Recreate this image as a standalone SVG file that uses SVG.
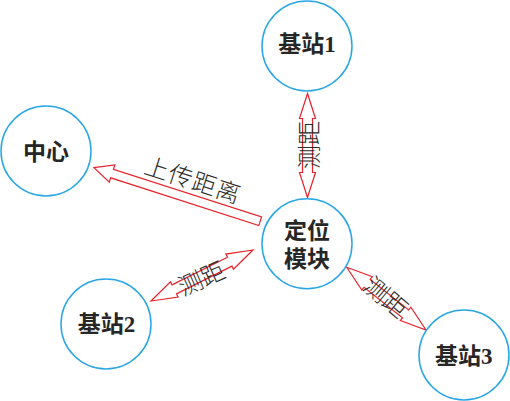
<svg xmlns="http://www.w3.org/2000/svg" width="510" height="401" viewBox="0 0 510 401">
<style>
.node{fill:#ffffff;stroke:#2aa6e4;stroke-width:1.5}
.nl{font-family:"Liberation Serif","Noto Sans CJK SC",serif;font-weight:700;font-size:23px;fill:#262626;text-anchor:middle}
.arr{fill:#ffffff;stroke:#e8222b;stroke-width:1.2;stroke-linejoin:miter}
.al{font-family:"Noto Sans CJK SC","Noto Sans",sans-serif;font-weight:300;font-size:24px;fill:#2b2b2b;text-anchor:middle;dominant-baseline:central}
</style>
<rect width="510" height="401" fill="#ffffff"/>
<g id="connectors">
  <path class="arr" transform="translate(307.5,93.5) rotate(90)" d="M0,0 L25,-8 L25,-5 L79,-5 L79,-8 L104,0 L79,8 L79,5 L25,5 L25,8 Z"/>
  <path class="arr" transform="translate(94,167.7) rotate(17.87)" d="M0,0 L19,-9 L19,-4.5 L174.6,-4.5 L174.6,4.5 L19,4.5 L19,9 Z"/>
  <path class="arr" transform="translate(151,301) rotate(-26.57)" d="M0,0 L26,-8.5 L26,-5 L88,-5 L88,-8.5 L114,0 L88,8.5 L88,5 L26,5 L26,8.5 Z"/>
  <path class="arr" transform="translate(346.7,267.3) rotate(38.33)" d="M0,0 L26,-8.5 L26,-5 L75.1,-5 L75.1,-8.5 L101.1,0 L75.1,8.5 L75.1,5 L26,5 L26,8.5 Z"/>
  <text class="al" transform="translate(307.5,145) rotate(-90)">测距</text>
  <text class="al" transform="translate(193.5,178.5) rotate(18)" font-size="23" letter-spacing="1">上传距离</text>
  <text class="al" transform="translate(201,277) rotate(-24)">测距</text>
  <text class="al" transform="translate(387,296) rotate(40)">测距</text>
</g>
<g id="node-jizhan1">
  <circle class="node" cx="307" cy="46" r="45"/>
  <text class="nl" x="307" y="52">基站1</text>
</g>
<g id="node-zhongxin">
  <circle class="node" cx="46" cy="151" r="45"/>
  <text class="nl" x="46" y="159.5">中心</text>
</g>
<g id="node-dingwei">
  <circle class="node" cx="307" cy="243.7" r="45"/>
  <text class="nl" x="307" y="238.5">定位</text>
  <text class="nl" x="307" y="266.5">模块</text>
</g>
<g id="node-jizhan2">
  <circle class="node" cx="106" cy="324" r="45"/>
  <text class="nl" x="106.5" y="332">基站2</text>
</g>
<g id="node-jizhan3">
  <circle class="node" cx="464" cy="355" r="45"/>
  <text class="nl" x="463.7" y="363.5">基站3</text>
</g>
</svg>
